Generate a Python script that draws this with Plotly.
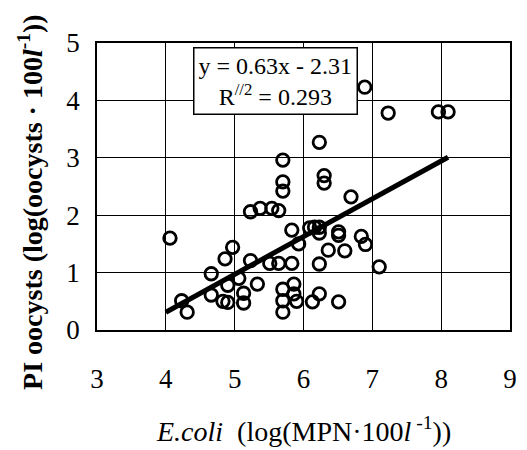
import plotly.graph_objects as go

# E.coli log(MPN/100l) values
ecoli = [4.06, 4.23, 4.31, 4.66, 4.66, 4.83, 4.90, 4.86, 4.97, 4.90,
         5.06, 5.13, 5.13, 5.23, 5.33, 5.23, 5.37, 5.54, 5.64, 5.51,
         5.64, 5.70, 5.70, 5.70, 5.70, 5.70, 5.70, 5.83, 5.83, 5.86,
         5.86, 5.90, 5.93, 6.09, 6.16, 6.23, 6.23, 6.23, 6.30, 6.30,
         6.69, 6.51, 6.51, 6.84, 6.90, 6.36, 6.60, 6.23, 7.10, 6.13,
         6.23, 6.51, 6.89, 7.23, 7.96, 8.10]
# PI oocysts log(oocysts/100l) values
oocysts = [1.60, 0.51, 0.31, 0.98, 0.61, 0.50, 0.48, 1.24, 1.44, 0.78,
           0.90, 0.64, 0.47, 1.21, 0.80, 2.06, 2.12, 2.12, 2.08, 1.16,
           1.16, 2.96, 2.58, 2.42, 0.71, 0.51, 0.31, 1.16, 1.74, 0.80,
           0.63, 0.50, 1.50, 1.78, 1.79, 1.79, 1.69, 3.27, 2.69, 2.56,
           2.32, 1.71, 1.65, 1.63, 1.49, 1.39, 1.38, 1.15, 1.10, 0.49,
           0.63, 0.49, 4.23, 3.78, 3.80, 3.80]

# regression line endpoints
fit_x = [4.0, 8.1]
fit_y = [0.31, 3.01]

x_ticks = [3, 4, 5, 6, 7, 8, 9]
y_ticks = [0, 1, 2, 3, 4, 5]

FONT = "Liberation Serif"

fig = go.Figure()
fig.add_trace(go.Scatter(
    x=ecoli, y=oocysts, mode="markers",
    marker=dict(symbol="circle-open", size=12.5, color="black",
                line=dict(width=2.8, color="black")),
    showlegend=False, cliponaxis=False))
fig.add_trace(go.Scatter(
    x=fit_x, y=fit_y, mode="lines",
    line=dict(color="black", width=5), showlegend=False))

fig.add_annotation(x=4.4, y=4.93, xref="x", yref="y", xanchor="left", yanchor="top",
                   text="y = 0.63x - 2.31<br>R<sup>//2</sup> = 0.293",
                   showarrow=False, align="center",
                   bordercolor="black", borderwidth=1.5, borderpad=4, bgcolor="white",
                   font=dict(family=FONT, size=24, color="black"))

fig.add_annotation(x=0.5, y=-0.348, xref="paper", yref="paper",
                   xanchor="center", yanchor="middle", showarrow=False,
                   text="<i>E.coli</i>  (log(MPN·100<i>l</i><sup> -1</sup>))",
                   font=dict(family=FONT, size=28, color="black"))
fig.add_annotation(x=-0.16, y=0.446, xref="paper", yref="paper",
                   xanchor="center", yanchor="middle", showarrow=False, textangle=-90,
                   text="<b>PI oocysts (log(oocysts · 100<i>l</i><sup>-1</sup>))</b>",
                   font=dict(family=FONT, size=28, color="black"))

fig.update_layout(
    width=527, height=450,
    margin=dict(l=97, r=10, t=43, b=120),
    paper_bgcolor="white", plot_bgcolor="white",
    font=dict(family=FONT, color="black"),
)
fig.update_xaxes(
    range=[3, 9], tickvals=x_ticks, ticktext=[str(v) for v in x_ticks],
    showgrid=True, gridcolor="black", gridwidth=1,
    showline=True, linecolor="black", linewidth=1.5, mirror=True,
    zeroline=False, ticks="", tickfont=dict(size=27), ticklabelstandoff=24,
)
fig.update_yaxes(
    range=[0, 5], tickvals=y_ticks, ticktext=[str(v) for v in y_ticks],
    showgrid=True, gridcolor="black", gridwidth=1,
    showline=True, linecolor="black", linewidth=1.5, mirror=True,
    zeroline=False, ticks="", tickfont=dict(size=27), ticklabelstandoff=10,
)

fig.write_html("out.html")
